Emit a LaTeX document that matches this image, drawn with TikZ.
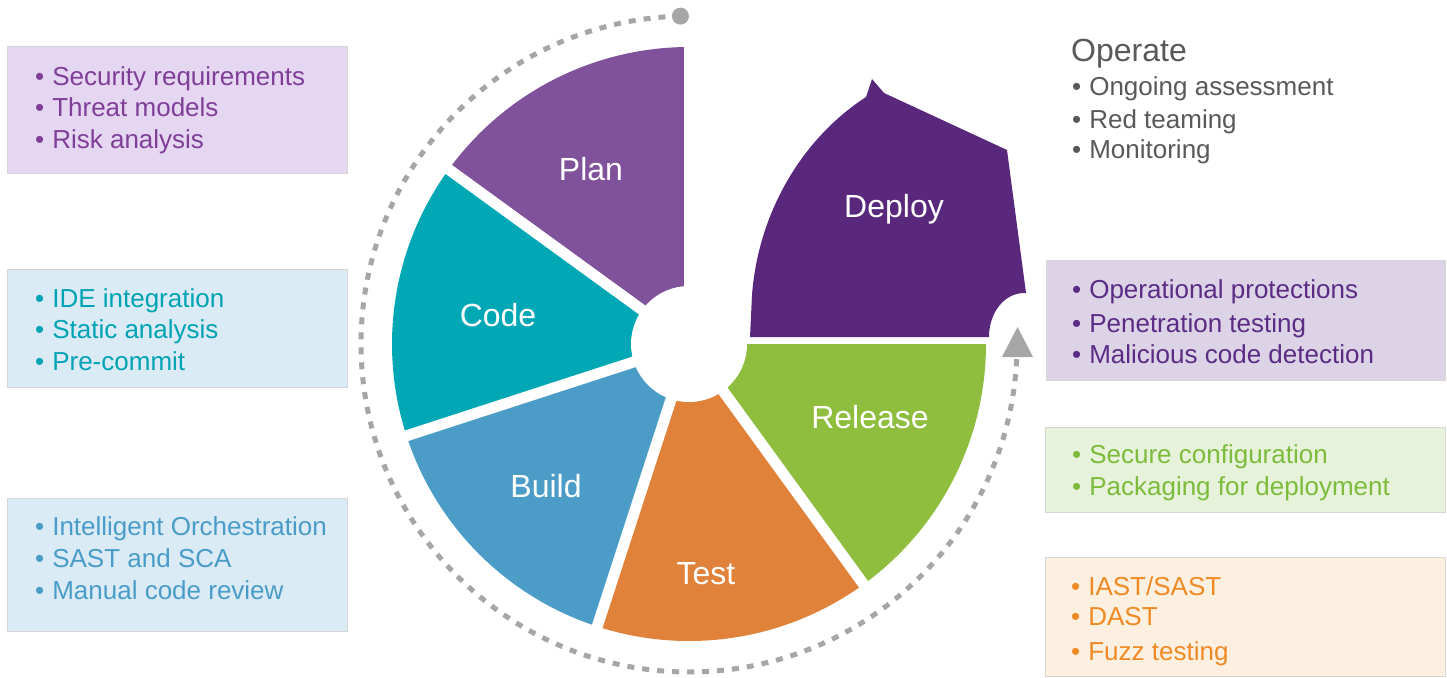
\documentclass[tikz,border=0pt]{standalone}
\usepackage{fontspec}
\setmainfont{Liberation Sans}
\definecolor{plan}{HTML}{7F529B}
\definecolor{code}{HTML}{00A8B5}
\definecolor{build}{HTML}{4B9DC8}
\definecolor{test}{HTML}{E0823A}
\definecolor{release}{HTML}{8FBE3F}
\definecolor{deploy}{HTML}{59287D}
\definecolor{planbg}{HTML}{E5D6F2}
\definecolor{plantext}{HTML}{7F3F98}
\definecolor{bluebg}{HTML}{DAEBF6}
\definecolor{codetext}{HTML}{00A3B4}
\definecolor{buildtext}{HTML}{4A9CC8}
\definecolor{deploybg}{HTML}{DCD3E6}
\definecolor{deploytext}{HTML}{5B2C86}
\definecolor{relbg}{HTML}{E6F3DA}
\definecolor{reltext}{HTML}{7DBB3C}
\definecolor{testbg}{HTML}{FDF0E0}
\definecolor{testtext}{HTML}{F08A24}
\definecolor{opgray}{HTML}{595959}
\definecolor{ringgray}{HTML}{A6A6A6}
\definecolor{boxline}{HTML}{D6D6D6}
\newcommand{\bl}{•\hspace{8pt}}
\begin{document}
\begin{tikzpicture}[x=1pt,y=1pt,
  infobox/.style={draw=boxline, line width=1pt},
  itemline/.style={anchor=base west, inner sep=0pt, font=\fontsize{26}{32}\selectfont},
  seglabel/.style={anchor=base, inner sep=0pt, text=white, font=\fontsize{32}{38}\selectfont},
  gapline/.style={white, line width=11pt},
  ring/.style={draw=ringgray, line width=5pt, dash pattern=on 7pt off 8pt}]
\useasboundingbox (0,0) rectangle (1447,-677);
\fill[white] (0,0) rectangle (1447,-677);

% ---- left boxes ----
\path[infobox, fill=planbg] (7,-47) rectangle (347,-173);
\node[itemline, text=plantext] (p1) at (35,-85) {\bl Security requirements};
\node[itemline, text=plantext] (p2) at (35,-116) {\bl Threat models};
\node[itemline, text=plantext] (p3) at (35,-148) {\bl Risk analysis};

\path[infobox, fill=bluebg] (7,-269) rectangle (347,-387);
\node[itemline, text=codetext] (c1) at (35,-307) {\bl IDE integration};
\node[itemline, text=codetext] (c2) at (35,-338) {\bl Static analysis};
\node[itemline, text=codetext] (c3) at (35,-370) {\bl Pre-commit};

\path[infobox, fill=bluebg] (7,-498) rectangle (347,-631);
\node[itemline, text=buildtext] (b1) at (35,-535) {\bl Intelligent Orchestration};
\node[itemline, text=buildtext] (b2) at (35,-567) {\bl SAST and SCA};
\node[itemline, text=buildtext] (b3) at (35,-599) {\bl Manual code review};

% ---- right side ----
\node[anchor=base west, inner sep=0pt, text=opgray, font=\fontsize{32}{38}\selectfont] (op) at (1071,-62) {Operate};
\node[itemline, text=opgray] (o1) at (1072,-95) {\bl Ongoing assessment};
\node[itemline, text=opgray] (o2) at (1072,-128) {\bl Red teaming};
\node[itemline, text=opgray] (o3) at (1072,-158) {\bl Monitoring};

\path[infobox, fill=deploybg] (1046,-260) rectangle (1445,-380);
\node[itemline, text=deploytext] (d1) at (1072,-298) {\bl Operational protections};
\node[itemline, text=deploytext] (d2) at (1072,-332) {\bl Penetration testing};
\node[itemline, text=deploytext] (d3) at (1072,-363) {\bl Malicious code detection};

\path[infobox, fill=relbg] (1045,-427) rectangle (1445,-512);
\node[itemline, text=reltext] (r1) at (1072,-463) {\bl Secure configuration};
\node[itemline, text=reltext] (r2) at (1072,-495) {\bl Packaging for deployment};

\path[infobox, fill=testbg] (1045,-557) rectangle (1445,-676);
\node[itemline, text=testtext] (t1) at (1071,-595) {\bl IAST/SAST};
\node[itemline, text=testtext] (t2) at (1071,-625) {\bl DAST};
\node[itemline, text=testtext] (t3) at (1071,-660) {\bl Fuzz testing};

% ---- wheel ----
\coordinate (c) at (689,-344);
\fill[plan]    (c) -- ++(90:297)  arc[start angle=90,  end angle=144, radius=297] -- cycle;
\fill[code]    (c) -- ++(144:297) arc[start angle=144, end angle=198, radius=297] -- cycle;
\fill[build]   (c) -- ++(198:297) arc[start angle=198, end angle=252, radius=297] -- cycle;
\fill[test]    (c) -- ++(252:297) arc[start angle=252, end angle=306, radius=297] -- cycle;
\fill[release] (c) -- ++(306:297) arc[start angle=306, end angle=360, radius=297] -- cycle;
\foreach \a in {90,144,198,252,306} \draw[gapline] (c) -- ++(\a:302);
\fill[white] (c) circle[radius=58];

% deploy piece
\fill[deploy] (750,-337) -- (752,-295) .. controls (758,-215) and (800,-140) .. (866,-97)
  -- (872,-79) -- (884,-93) -- (1007,-150) -- (1026,-293)
  .. controls (1005,-292) and (989,-312) .. (989,-337) -- cycle;

% dashed cycle arrow
\draw[ring] (c) ++(91.5:328) arc[start angle=91.5, end angle=357.5, radius=328];
\fill[ringgray] (c) ++(91.5:328) circle[radius=8.5];
\fill[ringgray] (1002,-357) -- (1033,-357) -- (1017.5,-327) -- cycle;

% labels
\node[seglabel] (lplan) at (591,-180) {Plan};
\node[seglabel] (lcode) at (498,-326) {Code};
\node[seglabel] (lbuild) at (546,-497) {Build};
\node[seglabel] (ltest) at (706,-584) {Test};
\node[seglabel] (lrel) at (870,-428) {Release};
\node[seglabel] (ldep) at (894,-217) {Deploy};
\end{tikzpicture}
\end{document}
